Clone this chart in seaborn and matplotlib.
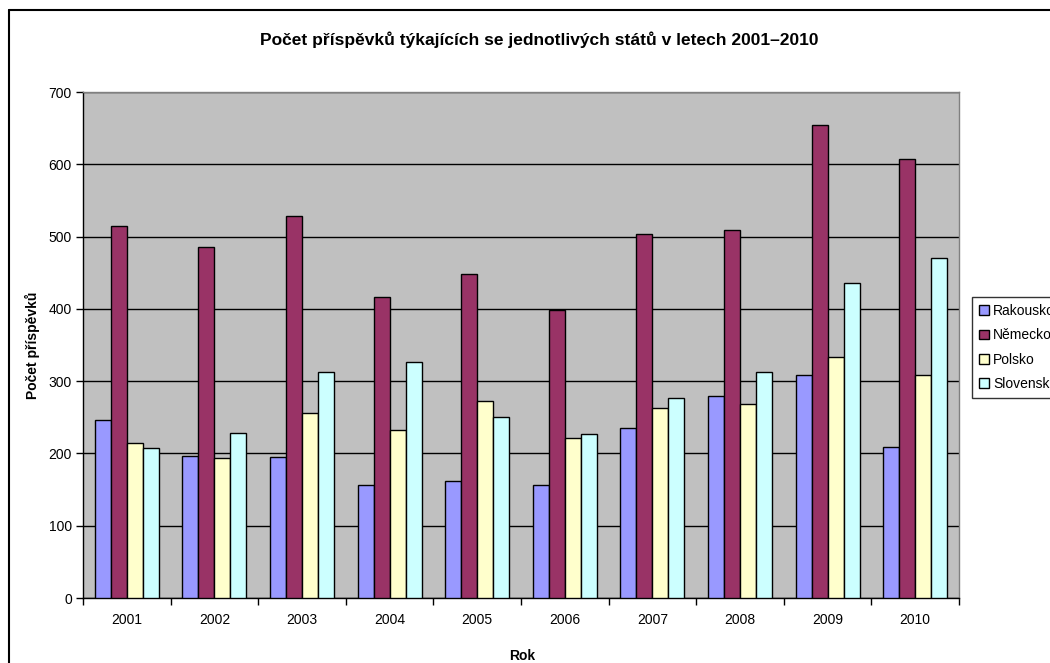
import matplotlib
matplotlib.use("Agg")
import matplotlib.pyplot as plt
import seaborn as sns
import pandas as pd
from matplotlib.lines import Line2D
from matplotlib.ticker import MultipleLocator, FixedLocator

years = ["2001", "2002", "2003", "2004", "2005", "2006", "2007", "2008", "2009", "2010"]
rakousko = [246, 197, 195, 156, 162, 157, 235, 280, 309, 209]
nemecko = [514, 486, 529, 416, 448, 398, 504, 509, 654, 608]
polsko = [214, 194, 256, 232, 272, 221, 263, 268, 333, 309]
slovensko = [207, 228, 312, 326, 250, 227, 277, 313, 436, 471]
series_names = ["Rakousko", "Německo", "Polsko", "Slovensko"]
colors = ["#9999FF", "#993366", "#FFFFCC", "#CCFFFF"]

rows = []
for name, vals in zip(series_names, [rakousko, nemecko, polsko, slovensko]):
    for y, v in zip(years, vals):
        rows.append({"Rok": y, "Stát": name, "Počet": v})
df = pd.DataFrame(rows)

sns.set_theme(style="white")
plt.rcParams['font.family'] = ['Liberation Sans', 'DejaVu Sans']
plt.rcParams['text.color'] = 'black'
plt.rcParams['axes.labelcolor'] = 'black'
plt.rcParams['xtick.color'] = 'black'
plt.rcParams['ytick.color'] = 'black'

W, H = 1050, 663
fig = plt.figure(figsize=(W / 100, H / 100), dpi=100)
ax = fig.add_axes([83 / W, 65 / H, (959 - 83) / W, (598 - 92) / H])
ax.set_facecolor("#C0C0C0")

sns.barplot(data=df, x="Rok", y="Počet", hue="Stát", order=years,
            hue_order=series_names, palette=colors, width=0.73, gap=0,
            edgecolor="black", linewidth=1, saturation=1, ax=ax, zorder=3)

ax.set_ylim(0, 700)
ax.set_xlim(-0.5, len(years) - 0.5)
ax.yaxis.set_major_locator(MultipleLocator(100))
ax.grid(axis="y", color="black", linewidth=1, zorder=0)
ax.set_axisbelow(True)
ax.set_xlabel("")
ax.set_ylabel("")

ax.tick_params(axis="y", which="major", direction="out", length=5, width=1,
               color="black", labelcolor="black", labelsize=10, pad=3, left=True)
ax.xaxis.set_minor_locator(FixedLocator([i - 0.5 for i in range(len(years) + 1)]))
ax.tick_params(axis="x", which="minor", direction="out", length=5, width=1,
               color="black", bottom=True)
ax.tick_params(axis="x", which="major", length=0, labelsize=10, pad=11,
               labelcolor="black")

for s in ["left", "bottom"]:
    ax.spines[s].set_color("black")
    ax.spines[s].set_linewidth(1)
for s in ["top", "right"]:
    ax.spines[s].set_color("#808080")
    ax.spines[s].set_linewidth(1)
    ax.spines[s].set_visible(True)

handles, labels = ax.get_legend_handles_labels()
ax.get_legend().remove()
leg = fig.legend(handles, labels, loc="upper left",
                 bbox_to_anchor=(972 / W, 1 - 297 / H), frameon=True,
                 fancybox=False, shadow=False, fontsize=10,
                 handlelength=0.7, handleheight=0.7, handletextpad=0.3,
                 labelspacing=0.75, borderpad=0.5, borderaxespad=0)
leg.get_frame().set_edgecolor("black")
leg.get_frame().set_linewidth(1)
leg.get_frame().set_facecolor("white")
for t in leg.get_texts():
    t.set_color("black")

fig.text(539 / W, 1 - 40 / H, "Počet příspěvků týkajících se jednotlivých států v letech 2001–2010",
         ha="center", va="center", fontsize=12.5, fontweight="bold", color="black")
fig.text(32 / W, 1 - 345 / H, "Počet příspěvků", rotation=90, ha="center",
         va="center", fontsize=10, fontweight="bold", color="black")
fig.text(522 / W, 1 - 656 / H, "Rok", ha="center", va="center",
         fontsize=10, fontweight="bold", color="black")

fig.add_artist(Line2D([9 / W, 1], [1 - 9.5 / H, 1 - 9.5 / H], transform=fig.transFigure,
                      color="black", linewidth=1.5))
fig.add_artist(Line2D([9 / W, 9 / W], [0, 1 - 9.5 / H], transform=fig.transFigure,
                      color="black", linewidth=1.5))

fig.savefig("out.png", dpi=100)
